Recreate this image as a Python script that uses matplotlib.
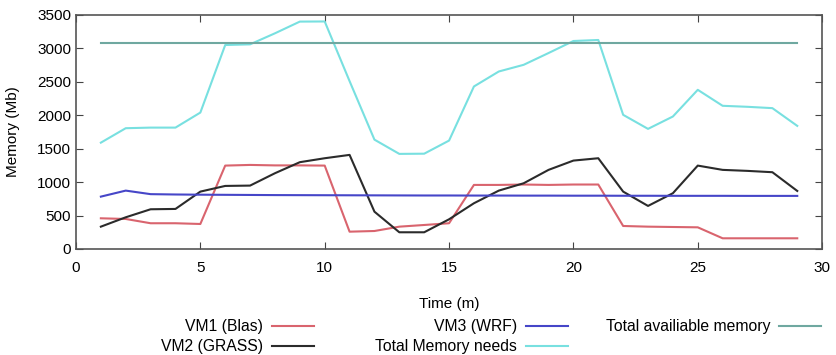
import matplotlib
matplotlib.use("Agg")
import matplotlib.pyplot as plt
from matplotlib.lines import Line2D

plt.rcParams["font.family"] = ["Liberation Sans", "DejaVu Sans"]

# ============================================================
# Dados
# ============================================================

tempo = list(range(1, 30))

vm1_blas = [459, 449, 385, 385, 374, 1247, 1257, 1250, 1250, 1247,
            259, 269, 334, 359, 385, 958, 958, 964, 958, 964,
            964, 344, 334, 329, 324, 160, 160, 160, 160]

vm2_grass = [334, 474, 594, 599, 858, 943, 948, 1133, 1298, 1357,
             1407, 558, 250, 250, 444, 684, 873, 983, 1183, 1322,
             1357, 858, 644, 834, 1247, 1183, 1168, 1148, 868]

vm3_wrf = [783, 873, 820, 815, 812, 810, 808, 806, 805, 804,
           803, 802, 801, 800, 800, 799, 799, 798, 798, 797,
           797, 796, 796, 795, 795, 795, 794, 794, 794]

total_necessidade = [1590, 1806, 1815, 1815, 2040, 3050, 3060, 3225, 3400, 3402,
                     2510, 1635, 1422, 1425, 1621, 2430, 2654, 2754, 2930, 3110,
                     3125, 2006, 1796, 1981, 2380, 2141, 2126, 2106, 1841]

total_disponivel = [3073] * len(tempo)

series = [
    ("VM1 (Blas)", vm1_blas, "#d9646e"),
    ("VM2 (GRASS)", vm2_grass, "#2b2b2b"),
    ("VM3 (WRF)", vm3_wrf, "#4646c8"),
    ("Total Memory needs", total_necessidade, "#78e0e0"),
    ("Total availiable memory", total_disponivel, "#6fa8a0"),
]

# ============================================================
# Figura
# ============================================================

W, H = 836, 355
fig = plt.figure(figsize=(W / 100, H / 100), dpi=100)
ax = fig.add_axes([0.0909, 0.2986, 0.8925, 0.6594])

for rotulo, valores, cor in series:
    ax.plot(tempo, valores, color=cor, linewidth=1.5, label=rotulo)

ax.set_xlim(0, 30)
ax.set_ylim(0, 3500)
ax.set_xticks(range(0, 31, 5))
ax.set_yticks(range(0, 3501, 500))
ax.tick_params(direction="in", top=True, right=True, length=5,
               labelsize=11, color="#444444")
ax.tick_params(axis="x", pad=9)
for s in ax.spines.values():
    s.set_color("#555555")
    s.set_linewidth(1.2)

ax.set_xlabel("Time (m)", fontsize=11)
ax.xaxis.set_label_coords(0.5, -(297 - 249) / (249 - 15))
ax.set_ylabel("Memory (Mb)", fontsize=11)
ax.yaxis.set_label_coords(-0.075, 0.5)

# Legenda no estilo gnuplot: texto alinhado à direita e amostra depois
posicoes = [(263, 326), (263, 346), (517, 326), (517, 346), (770, 326)]
for (rotulo, _, cor), (xt, yt) in zip(series, posicoes):
    fig.text(xt / W, 1 - yt / H, rotulo, ha="right", va="center", fontsize=11.3)
    fig.add_artist(Line2D([(xt + 9) / W, (xt + 51) / W], [1 - yt / H, 1 - yt / H],
                          color=cor, linewidth=1.5, transform=fig.transFigure))

fig.savefig("out.png", dpi=100)
